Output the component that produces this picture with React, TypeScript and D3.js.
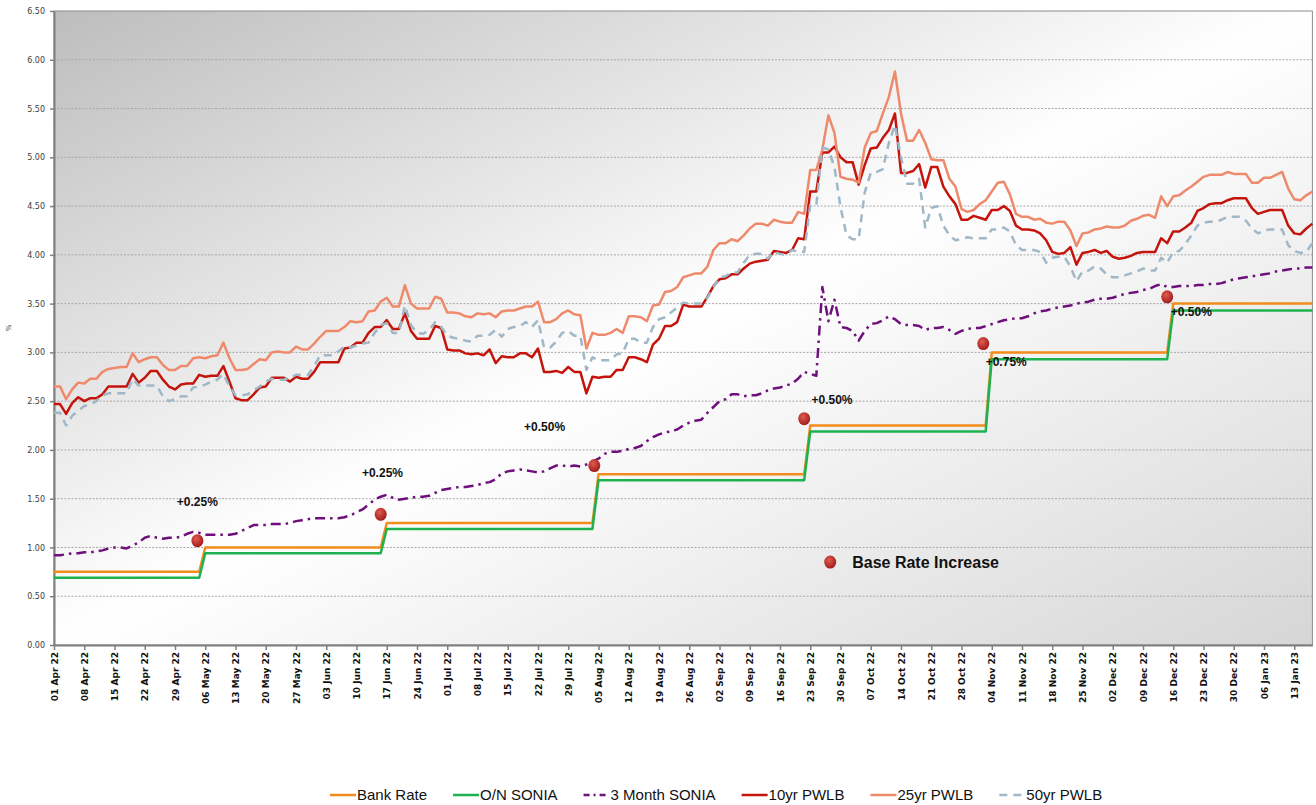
import React, { useEffect, useRef } from 'react';
import * as d3 from 'd3';

// business-day index 0 = 01 Apr 22, one tick every 5 days
const tickLabels = [
  '01 Apr 22', '08 Apr 22', '15 Apr 22', '22 Apr 22', '29 Apr 22',
  '06 May 22', '13 May 22', '20 May 22', '27 May 22',
  '03 Jun 22', '10 Jun 22', '17 Jun 22', '24 Jun 22',
  '01 Jul 22', '08 Jul 22', '15 Jul 22', '22 Jul 22', '29 Jul 22',
  '05 Aug 22', '12 Aug 22', '19 Aug 22', '26 Aug 22',
  '02 Sep 22', '09 Sep 22', '16 Sep 22', '23 Sep 22', '30 Sep 22',
  '07 Oct 22', '14 Oct 22', '21 Oct 22', '28 Oct 22',
  '04 Nov 22', '11 Nov 22', '18 Nov 22', '25 Nov 22',
  '02 Dec 22', '09 Dec 22', '16 Dec 22', '23 Dec 22', '30 Dec 22',
  '06 Jan 23', '13 Jan 23'
];

// step series: day of each change point and the rate there
const rateDays = [0, 24, 25, 54, 55, 89, 90, 124, 125, 154, 155, 184, 185, 208];
const bankRate = [0.75, 0.75, 1.0, 1.0, 1.25, 1.25, 1.75, 1.75, 2.25, 2.25, 3.0, 3.0, 3.5, 3.5];
const onSonia = [0.69, 0.69, 0.94, 0.94, 1.19, 1.19, 1.69, 1.69, 2.19, 2.19, 2.93, 2.93, 3.43, 3.43];

const sonia3m = [
  0.92, 0.92, 0.93, 0.94, 0.94, 0.95, 0.95, 0.96, 0.97, 0.99,
  1.00, 1.00, 0.99, 1.02, 1.05, 1.10, 1.12, 1.10, 1.09, 1.10,
  1.10, 1.11, 1.14, 1.16, 1.15, 1.13, 1.13, 1.13, 1.13, 1.13,
  1.14, 1.17, 1.20, 1.23, 1.23, 1.23, 1.24, 1.24, 1.24, 1.25,
  1.27, 1.28, 1.29, 1.30, 1.30, 1.30, 1.30, 1.30, 1.31, 1.33,
  1.36, 1.39, 1.44, 1.49, 1.52, 1.54, 1.51, 1.49, 1.50, 1.51,
  1.52, 1.52, 1.53, 1.56, 1.59, 1.60, 1.61, 1.62, 1.62, 1.63,
  1.64, 1.66, 1.67, 1.70, 1.76, 1.78, 1.79, 1.80, 1.79, 1.78,
  1.77, 1.78, 1.81, 1.84, 1.84, 1.83, 1.84, 1.83, 1.85, 1.88,
  1.91, 1.96, 1.98, 1.98, 1.99, 2.01, 2.02, 2.04, 2.09, 2.13,
  2.16, 2.18, 2.19, 2.21, 2.25, 2.28, 2.30, 2.31, 2.38, 2.44,
  2.50, 2.52, 2.57, 2.57, 2.55, 2.56, 2.56, 2.58, 2.61, 2.63,
  2.64, 2.66, 2.68, 2.73, 2.80, 2.78, 2.76, 3.67, 3.32, 3.54,
  3.26, 3.25, 3.22, 3.12, 3.22, 3.29, 3.30, 3.33, 3.37, 3.34,
  3.29, 3.28, 3.28, 3.27, 3.23, 3.25, 3.25, 3.26, 3.23, 3.19,
  3.22, 3.24, 3.25, 3.25, 3.27, 3.29, 3.31, 3.33, 3.34, 3.35,
  3.35, 3.37, 3.40, 3.42, 3.43, 3.45, 3.46, 3.47, 3.48, 3.50,
  3.51, 3.52, 3.54, 3.55, 3.55, 3.56, 3.58, 3.60, 3.61, 3.62,
  3.64, 3.65, 3.68, 3.70, 3.67, 3.67, 3.68, 3.68, 3.68, 3.69,
  3.69, 3.70, 3.70, 3.71, 3.73, 3.75, 3.76, 3.77, 3.78, 3.79,
  3.80, 3.81, 3.83, 3.84, 3.85, 3.86, 3.86, 3.87, 3.87
];

const pwlb10 = [
  2.47, 2.47, 2.37, 2.48, 2.54, 2.50, 2.53, 2.53, 2.57, 2.65,
  2.65, 2.65, 2.65, 2.78, 2.69, 2.74, 2.81, 2.81, 2.72, 2.65,
  2.62, 2.67, 2.68, 2.68, 2.77, 2.75, 2.76, 2.76, 2.86, 2.70,
  2.53, 2.51, 2.51, 2.57, 2.64, 2.65, 2.74, 2.74, 2.74, 2.70,
  2.75, 2.73, 2.73, 2.80, 2.90, 2.90, 2.90, 2.90, 3.04, 3.05,
  3.10, 3.10, 3.20, 3.26, 3.26, 3.33, 3.24, 3.24, 3.40, 3.22,
  3.14, 3.14, 3.14, 3.27, 3.25, 3.03, 3.02, 3.02, 2.99, 2.98,
  2.99, 2.97, 3.03, 2.89, 2.96, 2.95, 2.95, 2.99, 2.99, 2.95,
  3.04, 2.80, 2.80, 2.81, 2.79, 2.85, 2.80, 2.80, 2.58, 2.75,
  2.74, 2.75, 2.75, 2.82, 2.82, 2.95, 2.95, 2.93, 2.90, 3.08,
  3.14, 3.27, 3.27, 3.31, 3.49, 3.47, 3.47, 3.47, 3.57, 3.68,
  3.75, 3.76, 3.80, 3.80, 3.86, 3.91, 3.93, 3.94, 3.95, 4.04,
  4.03, 4.02, 4.05, 4.17, 4.16, 4.65, 4.65, 5.05, 5.05, 5.11,
  5.00, 4.95, 4.95, 4.72, 4.92, 5.09, 5.10, 5.20, 5.28, 5.45,
  4.84, 4.84, 4.86, 4.93, 4.69, 4.90, 4.90, 4.70, 4.60, 4.52,
  4.36, 4.36, 4.40, 4.38, 4.36, 4.46, 4.46, 4.50, 4.45, 4.30,
  4.26, 4.26, 4.25, 4.22, 4.15, 4.03, 4.01, 4.02, 4.08, 3.90,
  4.02, 4.03, 4.05, 4.02, 4.04, 3.98, 3.96, 3.97, 3.99, 4.02,
  4.03, 4.03, 4.03, 4.17, 4.12, 4.24, 4.24, 4.28, 4.33, 4.45,
  4.48, 4.52, 4.53, 4.53, 4.56, 4.58, 4.58, 4.58, 4.48, 4.42,
  4.44, 4.46, 4.46, 4.46, 4.30, 4.22, 4.21, 4.27, 4.32
];

const pwlb25 = [
  2.65, 2.65, 2.52, 2.62, 2.69, 2.68, 2.73, 2.73, 2.80, 2.83,
  2.84, 2.85, 2.85, 2.99, 2.90, 2.93, 2.95, 2.95, 2.87, 2.82,
  2.82, 2.86, 2.86, 2.94, 2.95, 2.94, 2.96, 2.97, 3.10, 2.94,
  2.82, 2.82, 2.83, 2.88, 2.93, 2.92, 3.00, 3.01, 3.00, 3.00,
  3.06, 3.03, 3.03, 3.09, 3.16, 3.22, 3.22, 3.22, 3.26, 3.32,
  3.31, 3.32, 3.42, 3.43, 3.52, 3.56, 3.47, 3.47, 3.69, 3.50,
  3.45, 3.45, 3.45, 3.57, 3.55, 3.41, 3.41, 3.40, 3.37, 3.36,
  3.40, 3.39, 3.40, 3.36, 3.42, 3.43, 3.43, 3.45, 3.47, 3.47,
  3.52, 3.31, 3.31, 3.34, 3.40, 3.43, 3.39, 3.38, 3.04, 3.20,
  3.18, 3.18, 3.20, 3.24, 3.20, 3.37, 3.37, 3.36, 3.32, 3.48,
  3.49, 3.62, 3.63, 3.67, 3.77, 3.79, 3.81, 3.81, 3.88, 4.05,
  4.12, 4.12, 4.16, 4.14, 4.20, 4.27, 4.32, 4.32, 4.30, 4.36,
  4.34, 4.33, 4.33, 4.44, 4.42, 4.87, 4.87, 5.08, 5.43, 5.25,
  4.80, 4.78, 4.77, 4.74, 5.10, 5.25, 5.27, 5.45, 5.62, 5.88,
  5.45, 5.17, 5.17, 5.28, 5.15, 4.98, 4.97, 4.97, 4.78, 4.70,
  4.47, 4.44, 4.46, 4.52, 4.56, 4.65, 4.74, 4.75, 4.62, 4.42,
  4.39, 4.39, 4.36, 4.37, 4.33, 4.32, 4.34, 4.34, 4.25, 4.09,
  4.22, 4.23, 4.26, 4.27, 4.29, 4.28, 4.28, 4.30, 4.35, 4.37,
  4.40, 4.41, 4.38, 4.60, 4.50, 4.60, 4.61, 4.66, 4.70, 4.75,
  4.80, 4.82, 4.82, 4.82, 4.85, 4.83, 4.83, 4.83, 4.74, 4.74,
  4.79, 4.79, 4.82, 4.85, 4.68, 4.57, 4.56, 4.61, 4.65
];

const pwlb50 = [
  2.38, 2.38, 2.25, 2.35, 2.40, 2.45, 2.46, 2.50, 2.56, 2.58,
  2.58, 2.58, 2.58, 2.73, 2.66, 2.66, 2.66, 2.66, 2.55, 2.50,
  2.52, 2.55, 2.55, 2.64, 2.65, 2.67, 2.70, 2.72, 2.78, 2.65,
  2.56, 2.56, 2.57, 2.61, 2.65, 2.70, 2.73, 2.72, 2.72, 2.74,
  2.77, 2.77, 2.77, 2.86, 2.97, 2.97, 2.97, 3.01, 3.06, 3.05,
  3.07, 3.09, 3.10, 3.20, 3.28, 3.30, 3.20, 3.20, 3.48, 3.28,
  3.20, 3.19, 3.23, 3.31, 3.26, 3.17, 3.15, 3.14, 3.12, 3.11,
  3.17, 3.17, 3.18, 3.23, 3.16, 3.24, 3.26, 3.27, 3.31, 3.26,
  3.33, 3.05, 3.05, 3.11, 3.20, 3.22, 3.17, 3.17, 2.82, 2.95,
  2.92, 2.92, 2.92, 2.98, 2.99, 3.14, 3.14, 3.10, 3.10, 3.26,
  3.34, 3.36, 3.41, 3.46, 3.51, 3.50, 3.50, 3.50, 3.56, 3.67,
  3.77, 3.78, 3.82, 3.82, 3.92, 4.00, 4.01, 4.01, 3.96, 4.03,
  4.01, 4.00, 4.05, 4.03, 4.03, 4.51, 4.51, 5.10, 5.08, 4.90,
  4.49, 4.20, 4.16, 4.16, 4.64, 4.84, 4.85, 4.88, 5.15, 5.33,
  5.00, 4.73, 4.73, 4.78, 4.28, 4.48, 4.50, 4.30, 4.20, 4.15,
  4.16, 4.18, 4.17, 4.17, 4.17, 4.26, 4.26, 4.28, 4.24, 4.10,
  4.05, 4.05, 4.05, 4.03, 3.92, 3.97, 3.98, 3.98, 3.88, 3.73,
  3.83, 3.84, 3.88, 3.86, 3.80, 3.77, 3.77, 3.79, 3.81, 3.83,
  3.86, 3.84, 3.84, 3.97, 3.92, 4.03, 4.04, 4.11, 4.20, 4.30,
  4.33, 4.34, 4.34, 4.36, 4.39, 4.39, 4.39, 4.35, 4.27, 4.22,
  4.25, 4.26, 4.26, 4.26, 4.10, 4.04, 4.02, 4.03, 4.12
];

// base rate increase markers and their labels
const hikeDay = [23.7, 54, 89.3, 124, 153.6, 184];
const hikeLevel = [1.07, 1.34, 1.84, 2.32, 3.09, 3.57];
const hikeText = ['+0.25%', '+0.25%', '+0.50%', '+0.50%', '+0.75%', '+0.50%'];
const hikeTextDay = [20.3, 50.9, 77.7, 125.2, 154.0, 184.6];
const hikeTextLevel = [1.42, 1.72, 2.19, 2.47, 2.86, 3.37];

const seriesNames = ['Bank Rate', 'O/N SONIA', '3 Month SONIA', '10yr PWLB', '25yr PWLB', '50yr PWLB'];
const seriesColors = ['#f28c1c', '#1db24f', '#6e0f7c', '#c4140c', '#ee8a6b', '#9fb7c6'];
const seriesDash = [null, null, '10,5,2.5,5', null, null, '8,6'];

const W = 1316;
const H = 805;

export default function App() {
  const ref = useRef<SVGSVGElement>(null);

  useEffect(() => {
    const svg = d3.select(ref.current);
    svg.selectAll('*').remove();

    const left = 54, right = 1312.4, top = 11, bottom = 645;
    const x = d3.scaleLinear().domain([0, 208]).range([left, right]);
    const y = d3.scaleLinear().domain([0, 6.5]).range([bottom, top]);

    const defs = svg.append('defs');
    const bg = defs.append('linearGradient').attr('id', 'plotBg')
      .attr('x1', 0).attr('y1', 0).attr('x2', 1).attr('y2', 1);
    bg.append('stop').attr('offset', '0%').attr('stop-color', '#bdbdbd');
    bg.append('stop').attr('offset', '50%').attr('stop-color', '#ffffff');
    bg.append('stop').attr('offset', '100%').attr('stop-color', '#d6d6d6');
    const dotGrad = defs.append('radialGradient').attr('id', 'dotGrad')
      .attr('cx', '40%').attr('cy', '35%').attr('r', '65%');
    dotGrad.append('stop').attr('offset', '0%').attr('stop-color', '#e25a4f');
    dotGrad.append('stop').attr('offset', '100%').attr('stop-color', '#a11d1d');

    svg.append('rect').attr('width', W).attr('height', H).attr('fill', '#fff');
    svg.append('rect')
      .attr('x', left).attr('y', top)
      .attr('width', right - left).attr('height', bottom - top)
      .attr('fill', 'url(#plotBg)')
      .attr('stroke', '#8c8c8c').attr('stroke-width', 1);

    // gridlines
    const yTicks = d3.range(0, 14).map(k => k * 0.5);
    svg.append('g').selectAll('line').data(yTicks.slice(1, -1)).join('line')
      .attr('x1', left).attr('x2', right)
      .attr('y1', d => y(d)).attr('y2', d => y(d))
      .attr('stroke', '#a8a8a8').attr('stroke-width', 1)
      .attr('stroke-dasharray', '2,1.5');

    // axes
    const yAxis = svg.append('g').attr('transform', `translate(${left},0)`)
      .call(d3.axisLeft(y).tickValues(yTicks).tickFormat(d3.format('.2f')).tickSize(4).tickSizeOuter(0));
    yAxis.select('.domain').attr('stroke', '#7f7f7f').attr('stroke-width', 2);
    yAxis.selectAll('.tick line').attr('stroke', '#7f7f7f').attr('stroke-width', 1.5);
    yAxis.selectAll('.tick text')
      .attr('x', -9)
      .style('font-family', '"DejaVu Sans", sans-serif').style('font-size', '8px').attr('fill', '#404040');

    const tickIdx = tickLabels.map((_, k) => k * 5);
    const xAxis = svg.append('g').attr('transform', `translate(0,${bottom})`)
      .call(d3.axisBottom(x).tickValues(tickIdx).tickFormat((_, k) => tickLabels[k]).tickSize(5).tickSizeOuter(0));
    xAxis.select('.domain').attr('stroke', '#7f7f7f').attr('stroke-width', 2);
    xAxis.selectAll('.tick line').attr('stroke', '#7f7f7f').attr('stroke-width', 1.5);
    xAxis.selectAll('.tick text')
      .attr('transform', 'rotate(-90)')
      .attr('text-anchor', 'end')
      .attr('x', -7).attr('y', 0).attr('dy', '0.35em')
      .style('font-family', '"DejaVu Sans", sans-serif').style('font-size', '9px')
      .style('font-weight', 'bold').attr('fill', '#111');

    svg.append('text')
      .attr('transform', `translate(11,${(top + bottom) / 2}) rotate(-90)`)
      .attr('text-anchor', 'middle')
      .style('font-family', '"DejaVu Sans", sans-serif').style('font-size', '7px').attr('fill', '#404040')
      .text('%');

    // series
    const dailyLine = d3.line<number>().x((d, k) => x(k)).y(d => y(d));
    const pairLine = d3.line<[number, number]>().x(d => x(d[0])).y(d => y(d[1]));

    const seriesPaths = [
      pairLine(rateDays.map((d, k) => [d, bankRate[k]] as [number, number])),
      pairLine(rateDays.map((d, k) => [d, onSonia[k]] as [number, number])),
      dailyLine(sonia3m),
      dailyLine(pwlb10),
      dailyLine(pwlb25),
      dailyLine(pwlb50)
    ];

    const lines = svg.append('g').attr('fill', 'none');
    seriesPaths.forEach((p, k) => {
      lines.append('path')
        .attr('d', p as string)
        .attr('stroke', seriesColors[k])
        .attr('stroke-width', 2.5)
        .attr('stroke-linejoin', 'round')
        .attr('stroke-dasharray', seriesDash[k]);
    });

    // hike markers
    svg.append('g').selectAll('ellipse').data(hikeDay).join('ellipse')
      .attr('cx', d => x(d)).attr('cy', (d, k) => y(hikeLevel[k]))
      .attr('rx', 6).attr('ry', 6.5)
      .attr('fill', 'url(#dotGrad)');

    svg.append('g').selectAll('text').data(hikeText).join('text')
      .attr('x', (d, k) => x(hikeTextDay[k])).attr('y', (d, k) => y(hikeTextLevel[k]))
      .style('font-family', '"Liberation Sans", Arial, sans-serif').style('font-size', '12px')
      .style('font-weight', 'bold').attr('fill', '#111')
      .text(d => d);

    // base rate increase key
    const keyX = x(128.3), keyY = y(0.85);
    svg.append('ellipse').attr('cx', keyX).attr('cy', keyY).attr('rx', 6).attr('ry', 6.5)
      .attr('fill', 'url(#dotGrad)');
    svg.append('text').attr('x', keyX + 22).attr('y', keyY).attr('dy', '0.35em')
      .style('font-family', '"Liberation Sans", Arial, sans-serif').style('font-size', '16px')
      .style('font-weight', 'bold').attr('fill', '#111')
      .text('Base Rate Increase');

    // legend
    const legend = svg.append('g').attr('transform', 'translate(330,795)');
    let lx = 0;
    seriesNames.forEach((name, k) => {
      legend.append('line')
        .attr('x1', lx).attr('x2', lx + 26).attr('y1', 0).attr('y2', 0)
        .attr('stroke', seriesColors[k]).attr('stroke-width', 2.5)
        .attr('stroke-dasharray', k === 2 ? '6,4,2,4' : seriesDash[k]);
      const t = legend.append('text')
        .attr('x', lx + 27).attr('y', 0).attr('dy', '0.35em')
        .style('font-family', '"Liberation Sans", Arial, sans-serif').style('font-size', '15px')
        .attr('fill', '#111')
        .text(name);
      const tw = (t.node() as SVGTextElement).getComputedTextLength();
      lx += 27 + tw + 26;
    });
  }, []);

  return (
    <svg ref={ref} width={W} height={H} style={{ position: 'absolute', left: 0, top: 0 }} />
  );
}
